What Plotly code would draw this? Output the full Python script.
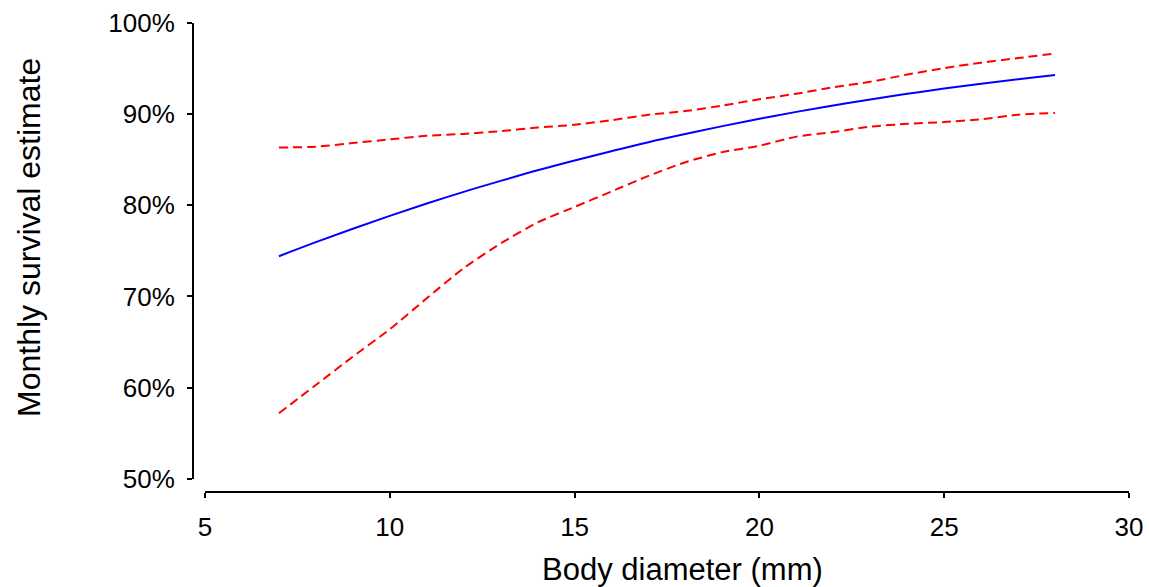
import plotly.graph_objects as go

diameter = [7, 8, 9, 10, 11, 12, 13, 14, 15, 16, 17, 18, 19, 20, 21, 22, 23, 24, 25, 26, 27, 28]
estimate = [0.7440, 0.7594, 0.7741, 0.7882, 0.8017, 0.8145, 0.8265, 0.8381, 0.8489, 0.8591, 0.8689,
            0.8779, 0.8865, 0.8945, 0.9021, 0.9091, 0.9157, 0.9219, 0.9276, 0.9330, 0.9379, 0.9425]
upper_ci = [0.863, 0.864, 0.868, 0.872, 0.876, 0.878, 0.881, 0.885, 0.888, 0.893, 0.899, 0.903,
            0.909, 0.916, 0.922, 0.929, 0.935, 0.943, 0.950, 0.956, 0.961, 0.966]
lower_ci = [0.572, 0.603, 0.634, 0.664, 0.698, 0.731, 0.758, 0.781, 0.798, 0.815, 0.832, 0.847,
            0.858, 0.865, 0.875, 0.880, 0.886, 0.889, 0.891, 0.894, 0.899, 0.901]

W, H = 1149, 587
FONT = "Liberation Sans, Arial, sans-serif"

fig = go.Figure()
fig.add_trace(go.Scatter(x=diameter, y=upper_ci, mode="lines",
                         line=dict(color="#ff0000", width=2, dash="9px,5px", shape="spline", smoothing=0.6),
                         name="Upper 95% CI"))
fig.add_trace(go.Scatter(x=diameter, y=lower_ci, mode="lines",
                         line=dict(color="#ff0000", width=2, dash="9px,5px", shape="spline", smoothing=0.6),
                         name="Lower 95% CI"))
fig.add_trace(go.Scatter(x=diameter, y=estimate, mode="lines",
                         line=dict(color="#0000ff", width=2, shape="spline", smoothing=1),
                         name="Estimate"))

fig.update_layout(
    width=W, height=H,
    margin=dict(l=0, r=0, t=0, b=0),
    paper_bgcolor="white", plot_bgcolor="white",
    showlegend=False,
    font=dict(family=FONT, color="black", size=26),
    xaxis=dict(
        domain=[205 / W, 1129 / W], anchor="free", position=(H - 492) / H,
        range=[5, 30], tickvals=[5, 10, 15, 20, 25, 30],
        showline=True, linecolor="black", linewidth=2,
        ticks="outside", ticklen=5, tickwidth=2, tickcolor="black",
        showgrid=False, zeroline=False, automargin=False,
        tickfont=dict(size=26, family=FONT), ticklabelstandoff=7,
    ),
    yaxis=dict(
        domain=[(H - 479) / H, (H - 22.5) / H], anchor="free", position=193 / W,
        range=[0.5, 1.0], tickvals=[0.5, 0.6, 0.7, 0.8, 0.9, 1.0], tickformat=".0%",
        showline=True, linecolor="black", linewidth=2,
        ticks="outside", ticklen=5, tickwidth=2, tickcolor="black",
        showgrid=False, zeroline=False, automargin=False,
        tickfont=dict(size=26, family=FONT), ticklabelstandoff=7,
    ),
    annotations=[
        dict(text="Monthly survival estimate", textangle=-90,
             xref="paper", yref="paper", x=29 / W, y=(H - 238) / H,
             xanchor="center", yanchor="middle", showarrow=False,
             font=dict(size=32, family=FONT, color="black")),
        dict(text="Body diameter (mm)",
             xref="paper", yref="paper", x=682 / W, y=(H - 569) / H,
             xanchor="center", yanchor="middle", showarrow=False,
             font=dict(size=31, family=FONT, color="black")),
    ],
)

fig.write_html("out.html")
